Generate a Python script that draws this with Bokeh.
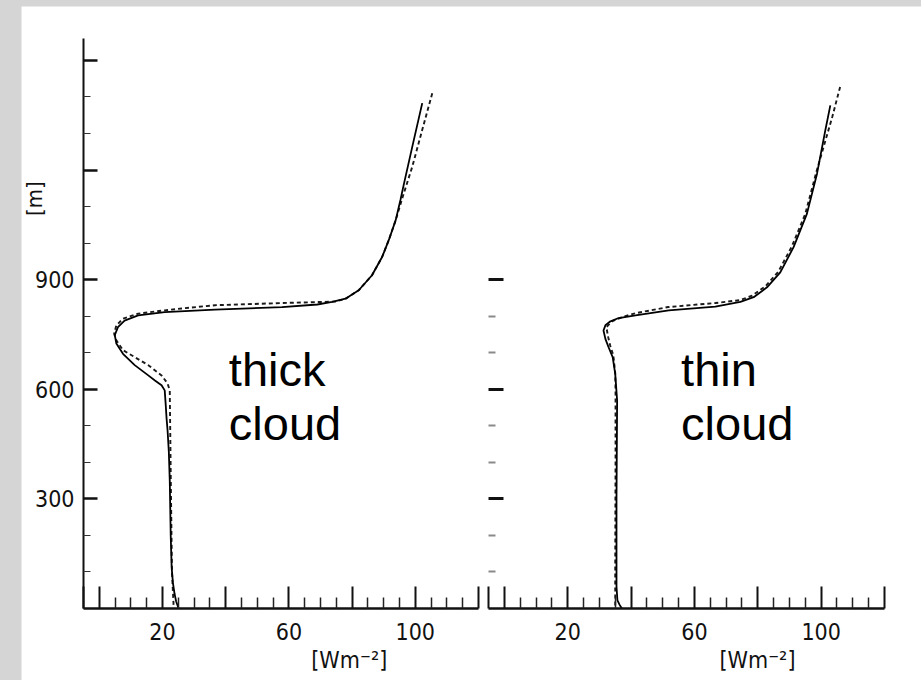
from bokeh.plotting import figure
from bokeh.layouts import column
from bokeh.models import FixedTicker, Label, LinearAxis, Range1d
from bokeh.embed import file_html
from bokeh.resources import INLINE

# Net radiative flux profiles: height [m] versus flux [W m^-2]
# Thick cloud case (solid and dashed profiles)
thick_solid_m = [0, 20, 41, 70, 112, 200, 350, 430, 488, 519, 560, 597, 611, 624, 638, 666,
                 697, 725, 748, 770, 788, 802, 811, 818, 825, 832, 839, 848, 871, 912,
                 962, 1008, 1063, 1118, 1162, 1262, 1383]
thick_solid_w = [25.1, 24.3, 23.8, 23.3, 22.9, 22.6, 22.3, 22.0, 21.6, 21.3, 21.0, 20.7, 19.7,
                 17.6, 15.5, 11.2, 7.5, 5.4, 4.9, 5.9, 8.0, 12.3, 20.7, 36.6, 57.8, 69.0, 73.7,
                 77.9, 82.1, 86.3, 89.5, 91.6, 93.8, 95.3, 96.4, 99.0, 102.2]

thick_dash_m = [10, 100, 300, 519, 597, 616, 638, 666, 688, 707, 734, 752, 775, 793, 807, 816,
                821, 830, 836, 840, 848, 871, 912, 962, 1008, 1063, 1126, 1208, 1310, 1411]
thick_dash_w = [23.5, 23.0, 22.7, 22.4, 22.3, 21.6, 19.7, 15.5, 11.2, 7.5, 5.4, 4.7, 5.4, 7.5,
                12.3, 20.7, 26.0, 36.6, 57.8, 74.7, 78.0, 82.1, 86.3, 89.5, 91.6, 93.8, 96.0,
                99.0, 102.2, 105.4]

# Thin cloud case
thin_solid_m = [0, 10, 22, 60, 300, 569, 642, 688, 715, 738, 761, 775, 786, 795, 802, 816,
                826, 839, 852, 879, 920, 989, 1080, 1190, 1308, 1377]
thin_solid_w = [37.1, 36.4, 35.7, 35.4, 35.4, 35.6, 35.0, 34.2, 32.9, 31.9, 31.3, 31.9, 33.5,
                36.1, 41.4, 51.9, 66.6, 74.5, 78.7, 82.9, 87.1, 91.3, 95.5, 98.7, 101.3, 102.9]

thin_dash_m = [8, 100, 400, 600, 644, 693, 720, 742, 770, 786, 797, 808, 825, 836, 844, 856,
               882, 922, 990, 1080, 1195, 1345, 1431]
thin_dash_w = [35.0, 35.0, 35.1, 35.1, 35.0, 34.4, 33.4, 32.8, 32.2, 34.0, 37.0, 41.3, 51.7,
               66.6, 74.4, 78.2, 82.4, 86.5, 90.7, 95.0, 98.5, 103.5, 106.1]

# Axis ticks
x_major = [-5, 0, 20, 40, 60, 80, 100, 120]
x_minor = [5, 10, 15, 25, 30, 35, 45, 50, 55, 65, 70, 75, 85, 90, 95, 105, 110, 115]
x_labelled = [20, 60, 100]
y_major_left = [300, 600, 900, 1200, 1500]
y_minor_left = [100, 200, 400, 500, 700, 800, 1000, 1100, 1300, 1400]
y_labelled = [300, 600, 900]
y_major_right = [300, 600, 900]
y_minor_right = [100, 200, 400, 500, 700, 800]

panel_titles = [("thick", "cloud"), ("thin", "cloud")]
flux_unit = "[Wm\u207b\u00b2]"
height_unit = "[m]"

TICK_FONT = "'Liberation Sans Narrow', 'DejaVu Sans Condensed', sans-serif"
TEXT_FONT = "'Liberation Sans', Arial, sans-serif"

# Page geometry (pixels): plot canvas sits inside a grey mat
CANVAS_X0, CANVAS_Y0 = 21, 6
CANVAS_W, CANVAS_H = 900, 674
W_LO, W_HI = -5, 120          # flux axis extent
H_LO, H_HI = 0, 1560          # height axis extent
LEFT_PX = (83, 478)           # flux axis span of the thick-cloud panel
RIGHT_PX = (488, 884)         # flux axis span of the thin-cloud panel
Y_PX = (608, 38)              # height axis span (bottom, top)


def span_range(px0, px1, v0, v1, lo_px, size_px):
    """Range1d whose ends sit at the canvas edges, so that v0..v1 lands on px0..px1."""
    scale = (px1 - px0) / (v1 - v0)
    start = v0 - (px0 - lo_px) / scale
    return Range1d(start, start + size_px / scale)


x_left = span_range(LEFT_PX[0], LEFT_PX[1], W_LO, W_HI, CANVAS_X0, CANVAS_W)
x_right = span_range(RIGHT_PX[0], RIGHT_PX[1], W_LO, W_HI, CANVAS_X0, CANVAS_W)
ysc = (Y_PX[0] - Y_PX[1]) / (H_HI - H_LO)
y_rng = Range1d(H_LO - (CANVAS_Y0 + CANVAS_H - Y_PX[0]) / ysc,
                H_HI + (Y_PX[1] - CANVAS_Y0) / ysc)

p = figure(width=CANVAS_W, height=CANVAS_H, x_range=x_left, y_range=y_rng,
           output_backend="svg", toolbar_location=None,
           x_axis_location=None, y_axis_location=None,
           min_border_left=0, min_border_right=0, min_border_top=0, min_border_bottom=0)
p.extra_x_ranges = {"right": x_right}
p.grid.visible = False
p.outline_line_color = None
p.background_fill_color = "white"
p.border_fill_color = "white"


def x_axis(range_name):
    ax = LinearAxis(ticker=FixedTicker(ticks=x_major, minor_ticks=x_minor),
                    fixed_location=H_LO, bounds=(W_LO, W_HI), x_range_name=range_name)
    ax.major_label_overrides = {t: (str(t) if t in x_labelled else "") for t in x_major}
    ax.axis_line_width = 2.5
    ax.axis_line_color = "#111111"
    ax.major_tick_in = 22
    ax.major_tick_out = 0
    ax.major_tick_line_width = 2
    ax.major_tick_line_color = "#111111"
    ax.minor_tick_in = 11
    ax.minor_tick_out = 0
    ax.minor_tick_line_width = 1.5
    ax.minor_tick_line_color = "#222222"
    ax.major_label_standoff = 14
    ax.major_label_text_font = TICK_FONT
    ax.major_label_text_font_size = "23px"
    ax.major_label_text_color = "#111111"
    p.add_layout(ax, "below")


def draw_curves(sm, sw, dm, dw, range_name):
    p.line(dw, dm, line_color="#1a1a1a", line_width=1.9, line_dash="4 3",
           x_range_name=range_name)
    p.line(sw, sm, line_color="black", line_width=1.8, x_range_name=range_name)


def panel_text(x, range_name, words):
    for word, y in zip(words, (655, 507)):
        p.add_layout(Label(x=x, y=y, text=word, x_range_name=range_name,
                           text_baseline="alphabetic", text_font=TEXT_FONT,
                           text_font_size="47px", text_color="black"))


# Thick-cloud panel
x_axis("default")
ly = LinearAxis(ticker=FixedTicker(ticks=y_major_left, minor_ticks=y_minor_left),
                fixed_location=W_LO, bounds=(H_LO, H_HI))
ly.major_label_overrides = {t: (str(t) if t in y_labelled else "") for t in y_major_left}
ly.axis_line_width = 2
ly.axis_line_color = "#111111"
ly.major_tick_in = 14
ly.major_tick_out = 0
ly.major_tick_line_width = 2.5
ly.major_tick_line_color = "#111111"
ly.minor_tick_in = 7
ly.minor_tick_out = 0
ly.minor_tick_line_width = 1.2
ly.minor_tick_line_color = "#333333"
ly.major_label_standoff = 9
ly.major_label_text_font = TICK_FONT
ly.major_label_text_font_size = "23px"
ly.major_label_text_color = "#111111"
ly.major_label_orientation = "horizontal"
p.add_layout(ly, "left")
draw_curves(thick_solid_m, thick_solid_w, thick_dash_m, thick_dash_w, "default")
panel_text(41, "default", panel_titles[0])

p.add_layout(Label(x=-20.6, y=1122, text=height_unit, angle=1.5708,
                   text_align="center", text_baseline="middle",
                   text_font=TICK_FONT, text_font_size="22px", text_color="#111111"))
p.add_layout(Label(x=79.1, y=-140, text=flux_unit, text_align="center",
                   text_baseline="middle", text_font=TICK_FONT,
                   text_font_size="23px", text_color="#111111"))

# Thin-cloud panel
x_axis("right")
ry = LinearAxis(ticker=FixedTicker(ticks=y_major_right, minor_ticks=y_minor_right),
                fixed_location=W_LO, bounds=(H_LO, H_HI), x_range_name="right")
ry.major_label_overrides = {t: "" for t in y_major_right}
ry.axis_line_color = None
ry.major_tick_in = 15
ry.major_tick_out = 0
ry.major_tick_line_width = 3
ry.major_tick_line_color = "#111111"
ry.minor_tick_in = 7
ry.minor_tick_out = 0
ry.minor_tick_line_width = 2
ry.minor_tick_line_color = "#8a8a8a"
p.add_layout(ry, "left")
draw_curves(thin_solid_m, thin_solid_w, thin_dash_m, thin_dash_w, "right")
panel_text(55.8, "right", panel_titles[1])

p.add_layout(Label(x=79.9, y=-140, text=flux_unit, x_range_name="right",
                   text_align="center", text_baseline="middle", text_font=TICK_FONT,
                   text_font_size="23px", text_color="#111111"))

p.margin = (CANVAS_Y0, 0, 0, CANVAS_X0)
page = column(p, spacing=0, styles={"background-color": "#d5d5d5"})

open("out.html", "w").write(file_html(page, INLINE))
